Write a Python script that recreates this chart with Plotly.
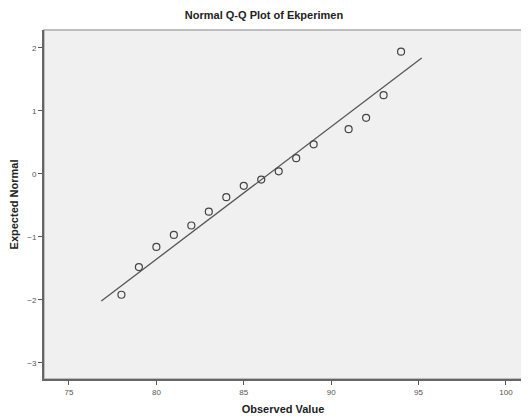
import plotly.graph_objects as go

# Data
observed = [78, 79, 80, 81, 82, 83, 84, 85, 86, 87, 88, 89, 91, 92, 93, 94]
expected = [-1.92, -1.48, -1.16, -0.97, -0.82, -0.60, -0.37, -0.19, -0.09,
            0.04, 0.25, 0.47, 0.71, 0.89, 1.25, 1.94]
line_mean = 86.44
line_sd = 4.75
line_x = [76.85, 95.18]
x_ticks = [75, 80, 85, 90, 95, 100]
y_ticks = [-3, -2, -1, 0, 1, 2]

line_y = [(v - line_mean) / line_sd for v in line_x]

fig = go.Figure()
fig.add_trace(go.Scatter(x=line_x, y=line_y, mode="lines",
                         line=dict(color="#555555", width=1.3),
                         showlegend=False, hoverinfo="skip"))
fig.add_trace(go.Scatter(x=observed, y=expected, mode="markers",
                         marker=dict(symbol="circle-open", size=7,
                                     color="#444444", line=dict(width=1.2)),
                         showlegend=False))

font = "Liberation Sans, Arial, sans-serif"
W, H = 521, 412
fig.update_layout(
    width=W, height=H,
    margin=dict(l=36, r=7, t=22, b=41),
    paper_bgcolor="white", plot_bgcolor="#f0f0f0",
    title=dict(text="<b>Normal Q-Q Plot of Ekperimen</b>", x=(264 - 8) / W, xanchor="center",
               y=1 - 7 / H, yanchor="middle",
               font=dict(family=font, size=11, color="#222222")),
    xaxis=dict(range=[73.57, 100.92], tickvals=x_ticks, showgrid=False, zeroline=False,
               ticks="outside", ticklen=4, tickcolor="#555555",
               showline=True, linecolor="#666666", linewidth=2, mirror=False,
               tickfont=dict(family=font, size=8, color="#555555"),
               title=dict(text="<b>Observed Value</b>", standoff=10,
                          font=dict(family=font, size=11, color="#222222"))),
    yaxis=dict(range=[-3.258, 2.285], tickvals=y_ticks, showgrid=False, zeroline=False,
               ticks="outside", ticklen=4, tickcolor="#555555",
               showline=True, linecolor="#666666", linewidth=2, mirror=False,
               tickfont=dict(family=font, size=8, color="#555555"),
               title=dict(text="<b>Expected Normal</b>", standoff=6,
                          font=dict(family=font, size=11, color="#222222"))),
    shapes=[dict(type="rect", xref="paper", yref="paper", x0=0, x1=1, y0=0, y1=1,
                 line=dict(color="#aaaaaa", width=1.5), layer="below")],
)

fig.write_html("out.html")
